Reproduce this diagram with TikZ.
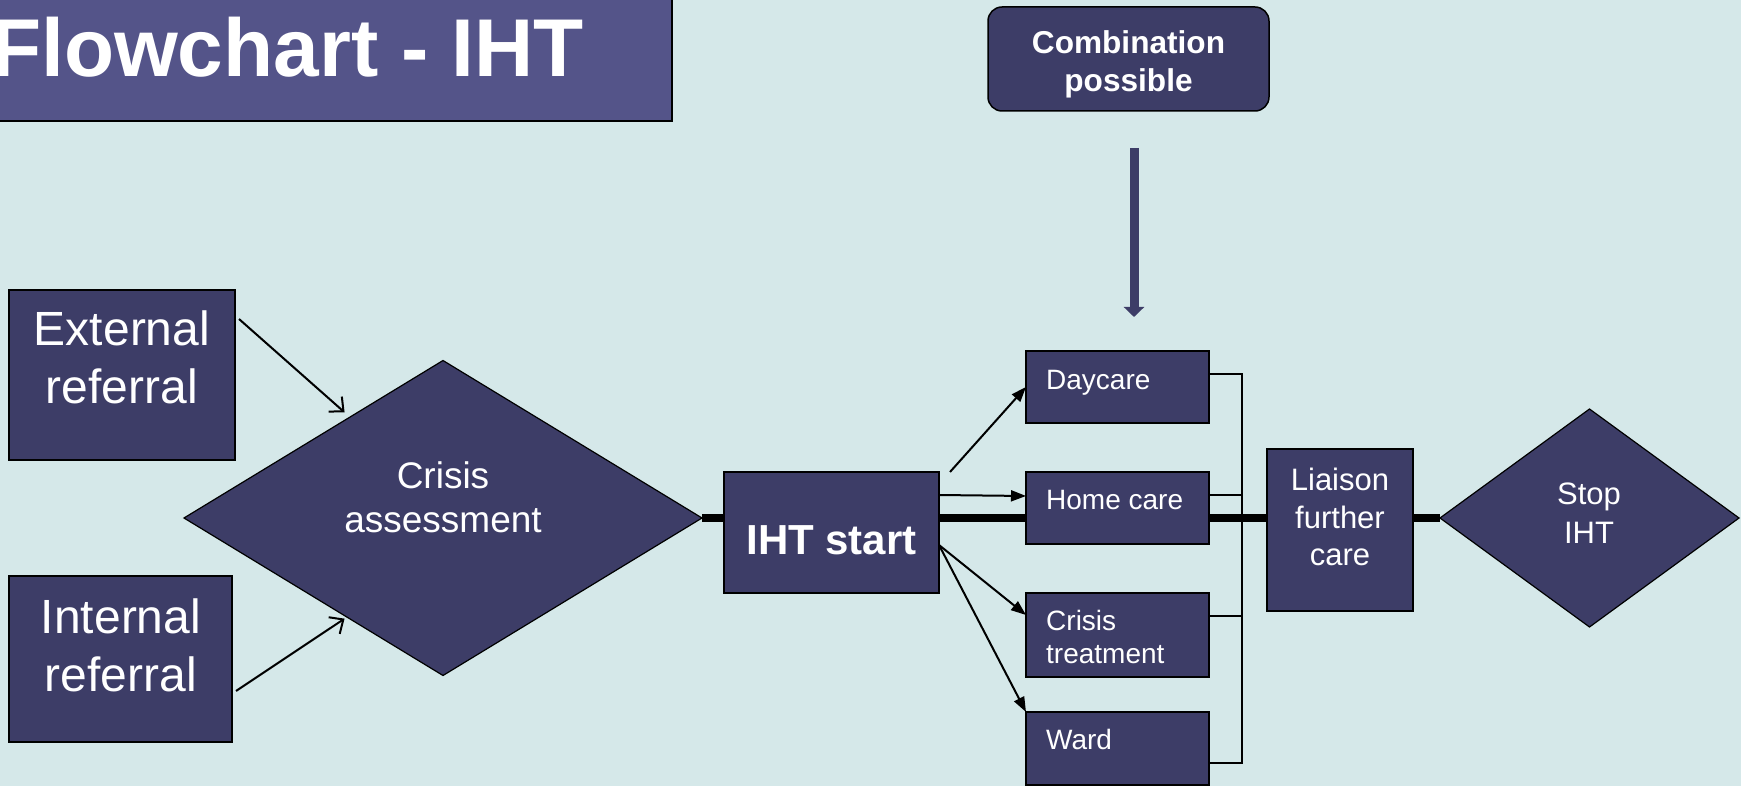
\documentclass[tikz,border=0pt]{standalone}
\usepackage{fontspec}
\setmainfont{Liberation Sans}
\usetikzlibrary{arrows.meta,shapes.geometric,calc,backgrounds}
\definecolor{bgc}{RGB}{213,232,233}
\definecolor{nodefill}{RGB}{61,61,103}
\definecolor{titlefill}{RGB}{84,84,137}
\begin{document}
\begin{tikzpicture}[x=1pt,y=-1pt,
  shapebox/.style={draw=black,fill=nodefill,line width=1.5pt,rectangle,inner sep=0pt,outer sep=0pt},
  diam/.style={draw=black,fill=nodefill,line width=1.2pt,diamond,inner sep=0pt,outer sep=0pt},
  wtext/.style={text=white,inner sep=0pt},
  thinarrow/.style={line width=2pt,-{Triangle[length=15pt,width=11pt]}},
  openarrow/.style={line width=2pt,-{Straight Barb[length=11pt,width=20pt]}},
  busline/.style={line width=1.5pt},
  mainline/.style={line width=7.5pt}
]
\useasboundingbox (0,0) rectangle (1741,786);
\clip (0,0) rectangle (1741,786);
% shapes
\node[shapebox,fill=titlefill,minimum width=692pt,minimum height=141pt] (title) at (326,50.5) {};
\node[shapebox,rounded corners=14pt,minimum width=281pt,minimum height=104pt] (comb) at (1128.5,59) {};
\node[shapebox,minimum width=226pt,minimum height=170pt] (ext) at (122,375) {};
\node[shapebox,minimum width=223pt,minimum height=166pt] (int) at (120.5,659) {};
\node[diam,minimum width=518pt,minimum height=315pt] (crisis) at (443,518) {};
\node[shapebox,minimum width=215pt,minimum height=121pt] (iht) at (831.5,532.5) {};
\node[shapebox,minimum width=183pt,minimum height=72pt] (day) at (1117.5,387) {};
\node[shapebox,minimum width=183pt,minimum height=72pt] (home) at (1117.5,508) {};
\node[shapebox,minimum width=183pt,minimum height=84pt] (ct) at (1117.5,635) {};
\node[shapebox,minimum width=183pt,minimum height=73pt] (ward) at (1117.5,748.5) {};
\node[shapebox,minimum width=146pt,minimum height=162pt] (liaison) at (1340,530) {};
\node[diam,minimum width=299pt,minimum height=218pt] (stop) at (1589.5,518) {};
% background and main line
\begin{pgfonlayer}{background}
\fill[bgc] (0,0) rectangle (1741,786);
\draw[mainline] (crisis.east) -- (stop.west);
\end{pgfonlayer}
% texts
\node[wtext,font=\bfseries\fontsize{82}{98}\selectfont,anchor=base west] (titletext) at (-9,77) {Flowchart - IHT};
\node[wtext,font=\bfseries\fontsize{31.6}{38}\selectfont,align=center] (combtext) at (1128.5,64) {Combination\\possible};
\node[wtext,font=\fontsize{48}{58}\selectfont,align=center] (exttext) at (122,357) {External\\referral};
\node[wtext,font=\fontsize{48}{58}\selectfont,align=center] (inttext) at (121,645) {Internal\\referral};
\node[wtext,font=\fontsize{37}{44}\selectfont,align=center] (crisistext) at (443,497.5) {Crisis\\assessment};
\node[wtext,font=\bfseries\fontsize{42}{50}\selectfont,anchor=base] (ihttext) at (831.5,554) {IHT start};
\node[wtext,font=\fontsize{28}{33}\selectfont,anchor=base west] (daytext) at (1046,389) {Daycare};
\node[wtext,font=\fontsize{28}{33}\selectfont,anchor=base west] (hometext) at (1046,509) {Home care};
\node[wtext,font=\fontsize{28}{33}\selectfont,align=left,anchor=west] (cttext) at (1046,636.5) {Crisis\\treatment};
\node[wtext,font=\fontsize{28}{33}\selectfont,anchor=base west] (wardtext) at (1046,749) {Ward};
\node[wtext,font=\fontsize{31}{37.5}\selectfont,align=center] (liaisontext) at (1340,517) {Liaison\\further\\care};
\node[wtext,font=\fontsize{31}{39}\selectfont,align=center] (stoptext) at (1589,513) {Stop\\IHT};
% combination arrow
\coordinate (combA) at ($(comb.south)+(5.5,37)$);
\coordinate (combB) at ($(comb.south)+(5.5,206)$);
\draw[line width=9pt,draw=nodefill,-{Triangle[length=10pt,width=20pt]}] (combA) -- (combB);
% referral arrows
\draw[openarrow] ($(ext.north east)+(4,29)$) -- ($(crisis.west)!0.62!(crisis.north)+(0,-8)$);
\draw[openarrow] ($(int.east)+(4,32)$) -- ($(crisis.west)!0.62!(crisis.south)+(0,3)$);
% IHT arrows
\draw[thinarrow] ($(iht.north east)+(11,0)$) -- (day.west);
\draw[thinarrow] ($(iht.north east)+(0,23)$) -- ($(home.north west)+(0,24)$);
\draw[thinarrow] ($(iht.north east)+(0,73)$) -- ($(ct.north west)+(0,22)$);
\draw[thinarrow] ($(iht.north east)+(0,73)$) -- (ward.north west);
% bus
\coordinate (busT) at (1242,374);
\coordinate (busB) at (1242,763);
\draw[busline] (day.east |- busT) -- (busT) -- (busB) -- (ward.east |- busB);
\draw[busline] ($(home.north east)+(0,23)$) -- +(33,0);
\draw[busline] ($(ct.north east)+(0,23)$) -- +(33,0);
\end{tikzpicture}
\end{document}
